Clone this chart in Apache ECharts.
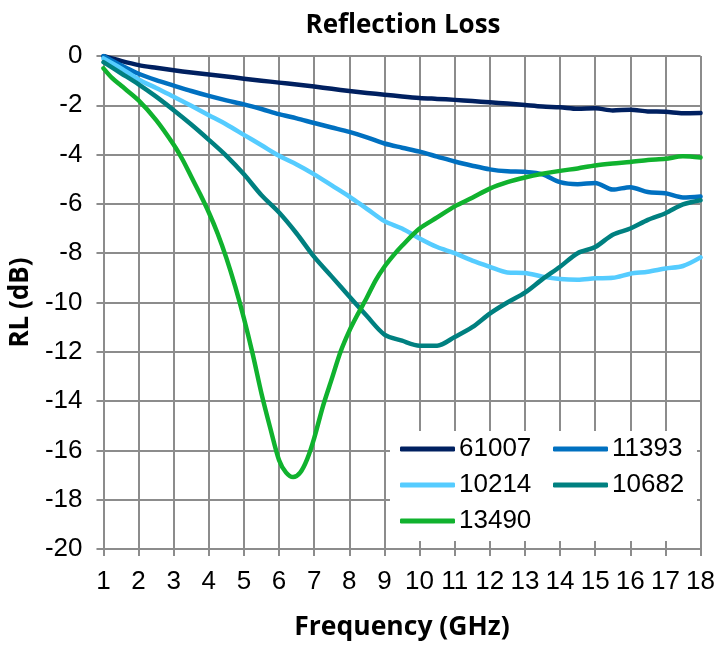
<!DOCTYPE html>
<html>
<head>
<meta charset="utf-8">
<script src="https://cdn.jsdelivr.net/npm/echarts@6/dist/echarts.min.js"></script>
<style>
html,body{margin:0;padding:0;background:#fff;}
#c{width:718px;height:647px;}
</style>
</head>
<body>
<div id="c"></div>
<script>
// Frequency grid (GHz) shared by the first four series
var freq = [1,1.5,2,2.5,3,3.5,4,4.5,5,5.5,6,6.5,7,7.5,8,8.5,9,9.5,10,10.5,11,11.5,12,12.5,13,13.5,14,14.5,15,15.5,16,16.5,17,17.5,18];

var rl61007 = [0,-0.2,-0.37,-0.48,-0.58,-0.67,-0.75,-0.83,-0.92,-1.0,-1.08,-1.16,-1.24,-1.33,-1.42,-1.50,-1.57,-1.64,-1.70,-1.74,-1.78,-1.83,-1.88,-1.93,-1.99,-2.05,-2.08,-2.14,-2.12,-2.21,-2.18,-2.25,-2.26,-2.32,-2.31];
var rl11393 = [0,-0.38,-0.72,-0.98,-1.2,-1.42,-1.62,-1.8,-1.96,-2.15,-2.36,-2.53,-2.72,-2.9,-3.08,-3.3,-3.55,-3.72,-3.88,-4.08,-4.28,-4.45,-4.6,-4.68,-4.7,-4.8,-5.12,-5.2,-5.15,-5.42,-5.32,-5.52,-5.57,-5.74,-5.7];
var rl10214 = [-0.1,-0.5,-0.95,-1.3,-1.65,-2.02,-2.4,-2.78,-3.2,-3.62,-4.05,-4.4,-4.8,-5.25,-5.7,-6.2,-6.7,-7.0,-7.4,-7.75,-8.0,-8.3,-8.55,-8.78,-8.8,-8.95,-9.05,-9.08,-9.02,-9.0,-8.83,-8.75,-8.62,-8.52,-8.17];
var rl10682 = [-0.25,-0.7,-1.15,-1.65,-2.2,-2.78,-3.4,-4.05,-4.8,-5.65,-6.35,-7.2,-8.15,-8.95,-9.76,-10.55,-11.3,-11.55,-11.75,-11.75,-11.4,-11.0,-10.45,-10.0,-9.6,-9.05,-8.55,-8.0,-7.75,-7.25,-7.0,-6.65,-6.38,-6.02,-5.85];

// Finer frequency grid for the sharp resonance of 13490
var freq13490 = [1,1.25,1.5,2,2.5,3,3.25,3.5,3.75,4,4.25,4.5,4.75,5,5.25,5.5,5.75,6,6.2,6.4,6.6,6.8,7,7.25,7.5,7.75,8,8.25,8.5,8.75,9,9.25,9.5,10,10.5,11,11.5,12,12.5,13,13.5,14,14.5,15,15.5,16,16.5,17,17.5,18];
var rl13490 = [-0.5,-0.9,-1.2,-1.8,-2.6,-3.6,-4.2,-4.9,-5.6,-6.35,-7.2,-8.2,-9.35,-10.65,-12.1,-13.7,-15.1,-16.4,-16.9,-17.08,-16.9,-16.35,-15.5,-14.2,-13.1,-12.0,-11.15,-10.45,-9.8,-9.1,-8.55,-8.1,-7.7,-7.0,-6.55,-6.1,-5.75,-5.38,-5.12,-4.93,-4.78,-4.66,-4.56,-4.44,-4.36,-4.3,-4.22,-4.17,-4.07,-4.12];

var seriesNames = ['61007','11393','10214','10682','13490'];
var seriesColors = ['#002060','#0070C0','#55CCFF','#008080','#10B22E'];
var xTicks = {min:1, max:18, step:1};
var yTicks = {min:-20, max:0, step:2};

function pairs(xs, ys){ return xs.map(function(x,i){ return [x, ys[i]]; }); }
var allData = [pairs(freq,rl61007), pairs(freq,rl11393), pairs(freq,rl10214), pairs(freq,rl10682), pairs(freq13490,rl13490)];

var chart = echarts.init(document.getElementById('c'), null, {renderer:'canvas'});
var tickFont = 'Liberation Sans, Arial, sans-serif';
var boldFont = 'Open Sans, Liberation Sans, sans-serif';
var gridGray = '#8c8c8c';
chart.setOption({
  animation:false,
  backgroundColor:'#fff',
  title:{
    text:'Reflection Loss', left:398, top:8, textAlign:'center',
    textStyle:{fontFamily:boldFont, fontWeight:'bold', fontSize:26, color:'#000'}
  },
  grid:{left:102, top:56, width:601, height:493, containLabel:false},
  xAxis:{
    type:'value', min:xTicks.min, max:xTicks.max, interval:xTicks.step,
    name:'Frequency (GHz)', nameLocation:'middle', nameGap:65,
    nameTextStyle:{fontFamily:boldFont, fontWeight:'bold', fontSize:26.5, color:'#000'},
    axisLine:{onZero:false, lineStyle:{color:gridGray, width:2}},
    axisTick:{show:true, length:7, lineStyle:{color:gridGray, width:2}},
    axisLabel:{fontFamily:tickFont, fontSize:26, color:'#000', margin:20},
    splitLine:{show:true, lineStyle:{color:gridGray, width:2}}
  },
  yAxis:{
    type:'value', min:yTicks.min, max:yTicks.max, interval:yTicks.step,
    name:'RL (dB)', nameLocation:'middle', nameGap:60, nameRotate:90,
    nameTextStyle:{fontFamily:boldFont, fontWeight:'bold', fontSize:26, color:'#000'},
    axisLine:{show:true, onZero:false, lineStyle:{color:gridGray, width:2}},
    axisTick:{show:true, length:7, lineStyle:{color:gridGray, width:2}},
    axisLabel:{fontFamily:tickFont, fontSize:26, color:'#000', margin:21},
    splitLine:{show:true, lineStyle:{color:gridGray, width:2}}
  },
  legend:{
    data:seriesNames, left:390, top:431, width:318, orient:'horizontal',
    backgroundColor:'#fff', padding:[5,1,7,10],
    itemWidth:55, itemHeight:5, itemGap:10, icon:'roundRect',
    textStyle:{fontFamily:tickFont, fontSize:26, lineHeight:24, width:84, color:'#000', padding:[0,0,0,-1]}
  },
  series: seriesNames.map(function(n,i){
    return {
      name:n, type:'line', data:allData[i], showSymbol:false, symbol:'none',
      smooth:0.3, color:seriesColors[i],
      lineStyle:{color:seriesColors[i], width:4.5, cap:'round', join:'round'}
    };
  })
});
</script>
</body>
</html>
